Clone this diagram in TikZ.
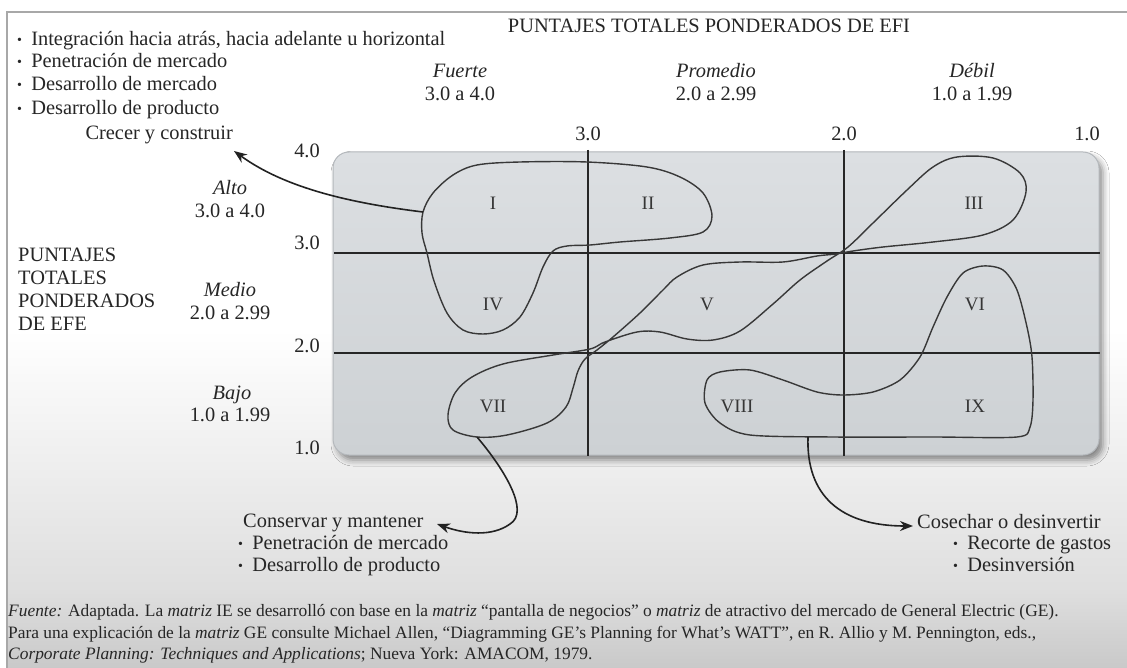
\documentclass[tikz,border=0pt]{standalone}
\usepackage{fontspec}
\setmainfont{Liberation Serif}
\usetikzlibrary{arrows.meta,shadows.blur}
\definecolor{txt}{HTML}{262626}
\definecolor{numc}{HTML}{363636}
\definecolor{gridc}{HTML}{262626}
\definecolor{blobc}{HTML}{383838}
\definecolor{arrc}{HTML}{222222}
\definecolor{framec}{HTML}{A8A8A8}
\definecolor{bgA}{HTML}{DEDEDE}
\definecolor{bgB}{HTML}{C9C9C9}
\definecolor{boxA}{HTML}{DCDFE2}
\definecolor{boxB}{HTML}{CDD1D4}
\definecolor{boxE}{HTML}{B4B8BC}
\newcommand{\mybul}{\raisebox{0.12ex}{\fontsize{14}{14}\selectfont•}\hspace{0.45em}}
\begin{document}
\begin{tikzpicture}[x=1pt,y=-1pt,
  every node/.style={inner sep=0pt,text=txt},
  lbl/.style={font=\fontsize{20.4}{23}\selectfont},
  ilbl/.style={font=\fontsize{20.4}{23}\selectfont\itshape},
  foot/.style={font=\fontsize{17.4}{20}\selectfont,anchor=mid west},
  num/.style={font=\fontsize{19}{19}\selectfont,text=numc},
  gline/.style={line width=1.7pt,draw=gridc},
  blob/.style={line width=1.4pt,draw=blobc},
  conn/.style={line width=1.6pt,draw=arrc,-{Stealth[length=13pt,width=10pt]}}]
\useasboundingbox (0,0) rectangle (1127,668);
% background
\fill[white] (0,0) rectangle (1127,668);
\shade[top color=white,bottom color=bgA] (7,330) rectangle (1127,593);
\shade[top color=bgA,bottom color=bgB] (7,592) rectangle (1127,668);
\draw[framec,line width=1.2pt] (1127,12) -- (7,12) -- (7,668);
% matrix box
\path[rounded corners=16pt,top color=boxA,bottom color=boxB,draw=boxE,line width=1pt,
  blur shadow={shadow xshift=4pt,shadow yshift=-5pt,shadow blur radius=6pt,shadow opacity=45}]
  (333,152) rectangle (1099,455);
\draw[gline] (588,150) -- (588,456);
\draw[gline] (844,150) -- (844,456);
\draw[gline] (334,253) -- (1100,253);
\draw[gline] (334,353) -- (1100,353);
% regions
\draw[blob] plot[smooth cycle,tension=0.55] coordinates {
 (423,212) (422,233) (427,253) (434,281) (447,313) (463,330) (483,334) (503,330)
 (520,317) (533,293) (543,267) (553,251) (567,246) (590,245) (620,242) (670,238)
 (703,232) (712,216) (703,193) (680,177) (647,167) (587,162) (520,162) (477,165)
 (453,175) (433,193)};
\draw[blob] plot[smooth cycle,tension=0.55] coordinates {
 (983,235) (933,242) (883,247) (853,251) (836,254) (817,256) (783,262) (740,262)
 (703,265) (677,277) (663,290) (640,313) (613,337) (597,350) (585,359) (578,371)
 (573,388) (566,407) (547,423) (507,435) (477,437) (453,430) (448,415) (455,393)
 (472,377) (503,364) (553,355) (590,349) (605,342) (637,332) (660,332) (687,339)
 (713,340) (740,331) (773,304) (800,280) (827,261) (848,247) (873,223) (907,190)
 (933,167) (957,157) (993,158) (1020,173) (1026,192) (1013,220)};
\draw[blob] plot[smooth cycle,tension=0.5] coordinates {
 (707,380) (720,372) (750,370) (783,380) (817,392) (843,395) (873,392) (900,380)
 (920,357) (933,327) (947,297) (963,273) (983,266) (1003,270) (1017,290) (1027,327)
 (1032,357) (1033,400) (1030,427) (1017,437) (933,437) (833,437) (750,435) (720,423)
 (705,403)};
% cell labels
\node[num] (c1) at (493,203) {I};
\node[num] (c2) at (648,203) {II};
\node[num] (c3) at (974,203) {III};
\node[num] (c4) at (493,304) {IV};
\node[num] (c5) at (707,304) {V};
\node[num] (c6) at (975,304) {VI};
\node[num] (c7) at (493,406) {VII};
\node[num] (c8) at (737,406) {VIII};
\node[num] (c9) at (975,406) {IX};
% header
\node[lbl,anchor=mid] (hdr) at (709,30) {PUNTAJES TOTALES PONDERADOS DE EFI};
\node[ilbl,anchor=mid] (fu) at (460,75) {Fuerte};
\node[lbl,anchor=mid] (fur) at (460,98) {3.0 a 4.0};
\node[ilbl,anchor=mid] (pr) at (716,75) {Promedio};
\node[lbl,anchor=mid] (prr) at (716,98) {2.0 a 2.99};
\node[ilbl,anchor=mid] (de) at (972,75) {Débil};
\node[lbl,anchor=mid] (der) at (972,98) {1.0 a 1.99};
\node[lbl,anchor=mid] (t3) at (588,138) {3.0};
\node[lbl,anchor=mid] (t2) at (844,138) {2.0};
\node[lbl,anchor=mid] (t1) at (1087,138) {1.0};
% left axis
\node[lbl,anchor=mid] (l4) at (307,155) {4.0};
\node[lbl,anchor=mid] (l3) at (307,247) {3.0};
\node[lbl,anchor=mid] (l2) at (307,350) {2.0};
\node[lbl,anchor=mid] (l1) at (307,452) {1.0};
\node[ilbl,anchor=mid] (al) at (230,192) {Alto};
\node[lbl,anchor=mid] (alr) at (230,215) {3.0 a 4.0};
\node[ilbl,anchor=mid] (me) at (230,294) {Medio};
\node[lbl,anchor=mid] (mer) at (230,317) {2.0 a 2.99};
\node[ilbl,anchor=mid] (ba) at (232,397) {Bajo};
\node[lbl,anchor=mid] (bar) at (230,419) {1.0 a 1.99};
\node[lbl,anchor=mid west] (ef1) at (18,259) {PUNTAJES};
\node[lbl,anchor=mid west] (ef2) at (18,282) {TOTALES};
\node[lbl,anchor=mid west] (ef3) at (18,305) {PONDERADOS};
\node[lbl,anchor=mid west] (ef4) at (18,328) {DE EFE};
% top-left list
\node[lbl,anchor=mid west] (s1) at (17,43) {\mybul Integración hacia atrás, hacia adelante u horizontal};
\node[lbl,anchor=mid west] (s2) at (17,65) {\mybul Penetración de mercado};
\node[lbl,anchor=mid west] (s3) at (17,88) {\mybul Desarrollo de mercado};
\node[lbl,anchor=mid west] (s4) at (17,112) {\mybul Desarrollo de producto};
\node[lbl,anchor=mid east] (crecer) at (233,137) {Crecer y construir};
% bottom-left list
\node[lbl,anchor=mid west] (cons) at (243,525) {Conservar y mantener};
\node[lbl,anchor=mid west] (k1) at (238,547) {\mybul Penetración de mercado};
\node[lbl,anchor=mid west] (k2) at (238,569) {\mybul Desarrollo de producto};
% bottom-right list
\node[lbl,anchor=mid west] (cos) at (917,526) {Cosechar o desinvertir};
\node[lbl,anchor=mid west] (h1) at (953,547) {\mybul Recorte de gastos};
\node[lbl,anchor=mid west] (h2) at (953,569) {\mybul Desinversión};
% connectors
\coordinate (g1) at (423,212);
\coordinate (g2) at (477,437);
\coordinate (g3) at (808,437);
\coordinate (tipA) at (234,151);
\coordinate (tipB) at (437,524);
\coordinate (tipC) at (913,526);
\draw[conn] (g1) .. controls (350,203) and (285,188) .. (tipA);
\draw[conn] (g2) .. controls (505,470) and (530,512) .. (510,524) .. controls (492,537) and (465,534) .. (tipB);
\draw[conn] (g3) .. controls (806,495) and (840,526) .. (tipC);
% footer
\node[foot] (f1) at (8,614) {\textit{Fuente:} Adaptada. La \textit{matriz} IE se desarrolló con base en la \textit{matriz} “pantalla de negocios” o \textit{matriz} de atractivo del mercado de General Electric (GE).};
\node[foot] (f2) at (8,636) {Para una explicación de la \textit{matriz} GE consulte Michael Allen, “Diagramming GE’s Planning for What’s WATT”, en R. Allio y M. Pennington, eds.,};
\node[foot] (f3) at (8,657) {\textit{Corporate Planning: Techniques and Applications}; Nueva York: AMACOM, 1979.};
\end{tikzpicture}
\end{document}
